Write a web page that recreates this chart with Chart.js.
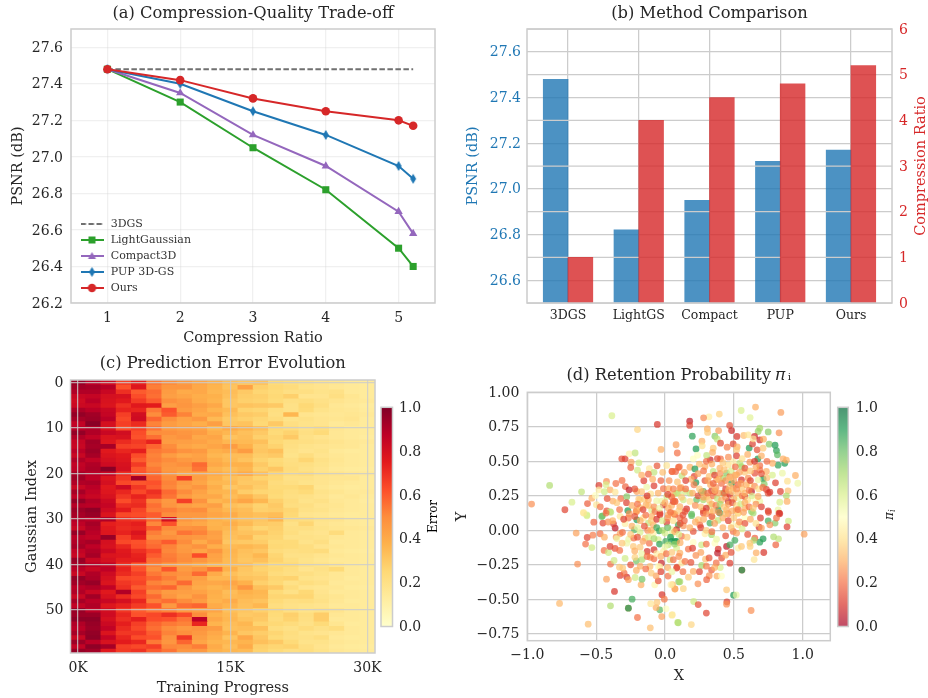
<!DOCTYPE html>
<html>
<head>
<meta charset="utf-8">
<title>Compression figure</title>
<script src="https://cdn.jsdelivr.net/npm/chart.js@4/dist/chart.umd.js"></script>
<style>
  html, body { margin: 0; padding: 0; background: #fff; }
  body { width: 928px; height: 698px; position: relative; overflow: hidden; }
  .box { position: absolute; }
</style>
</head>
<body>
<div class="box" style="left:0;top:0;width:450px;height:350px"><canvas id="tradeoff"></canvas></div>
<div class="box" style="left:450px;top:0;width:478px;height:350px"><canvas id="methods"></canvas></div>
<div class="box" style="left:0;top:350px;width:392px;height:348px"><canvas id="heat"></canvas></div>
<div class="box" style="left:378px;top:380px;width:72px;height:270px"><canvas id="heatBar"></canvas></div>
<div class="box" style="left:450px;top:350px;width:385px;height:348px"><canvas id="retention"></canvas></div>
<div class="box" style="left:835px;top:380px;width:93px;height:270px"><canvas id="retentionBar"></canvas></div>
<script>
// ---- panel (a) ----
const ratioX = [1, 2, 3, 4, 5, 5.2];
const baselineX = [1, 5.2];
const baselinePsnr = [27.48, 27.48];
const lightGaussianPsnr = [27.48, 27.30, 27.05, 26.82, 26.50, 26.40];
const compact3dPsnr = [27.48, 27.35, 27.12, 26.95, 26.70, 26.58];
const pupPsnr = [27.48, 27.40, 27.25, 27.12, 26.95, 26.88];
const oursPsnr = [27.48, 27.42, 27.32, 27.25, 27.20, 27.17];
const tradeoffXTicks = [1, 2, 3, 4, 5];
const tradeoffYTicks = [26.2, 26.4, 26.6, 26.8, 27.0, 27.2, 27.4, 27.6];

// ---- panel (b) ----
const methodNames = ["3DGS", "LightGS", "Compact", "PUP", "Ours"];
const methodPsnr = [27.48, 26.82, 26.95, 27.12, 27.17];
const methodRatio = [1.0, 4.0, 4.5, 4.8, 5.2];
const methodPsnrTicks = [26.6, 26.8, 27.0, 27.2, 27.4, 27.6];
const methodRatioTicks = [0, 1, 2, 3, 4, 5, 6];

// ---- panel (c) ---- error per gaussian (row) and training step (column), in %
const heatTickColumns = [0, 10, 19];
const heatTickLabels = ["0K", "15K", "30K"];
const heatRowTicks = [0, 10, 20, 30, 40, 50];
const errorRows = [
  [95,88,82,66,74,55,50,46,42,38,33,31,32,24,22,20,18,17,15,14],
  [93,92,89,62,77,53,47,47,41,37,32,43,28,25,23,19,18,16,15,14],
  [90,90,84,70,60,57,45,40,41,36,34,30,26,24,21,21,19,20,15,14],
  [84,85,80,79,63,56,44,42,39,38,33,29,28,25,28,18,18,21,17,14],
  [82,88,79,76,67,60,49,46,40,37,31,28,27,24,21,22,20,18,16,15],
  [83,84,78,70,76,75,44,47,44,41,31,32,31,30,20,25,21,16,15,13],
  [91,88,84,73,72,54,62,45,42,37,35,27,26,22,20,24,19,17,16,14],
  [96,93,85,66,81,50,60,52,40,41,33,30,29,21,36,18,17,16,17,15],
  [92,94,88,64,82,58,49,43,46,35,30,28,26,23,19,20,18,17,18,14],
  [86,98,80,66,71,52,45,42,39,44,31,32,25,30,21,19,18,15,16,14],
  [88,90,79,63,66,55,46,44,43,36,40,37,33,25,23,20,22,17,15,14],
  [96,90,84,81,63,50,49,47,45,39,36,33,30,24,27,21,24,16,15,14],
  [90,86,78,79,62,56,46,48,41,42,32,34,28,26,30,20,18,16,15,13],
  [85,93,77,71,67,73,45,44,43,40,36,35,33,25,22,21,20,18,16,15],
  [84,92,92,66,65,58,50,42,40,42,45,38,30,27,21,19,18,17,16,14],
  [88,94,76,72,74,54,52,48,46,38,40,45,31,33,20,18,19,15,14,14],
  [84,92,78,76,63,52,45,41,43,36,34,34,29,30,19,22,18,16,15,14],
  [90,86,80,77,60,53,50,46,44,39,35,32,27,24,21,26,20,17,15,14],
  [86,90,82,79,67,51,47,49,57,41,38,38,30,25,22,21,19,16,15,14],
  [87,91,98,80,61,54,46,45,55,37,34,36,28,31,23,20,18,15,14,13],
  [92,88,84,70,62,56,48,42,43,40,37,40,33,26,22,23,19,18,16,15],
  [93,87,78,68,93,58,50,66,44,38,33,31,27,25,20,20,18,17,17,14],
  [90,91,80,64,61,62,52,46,42,36,35,30,30,23,21,19,18,16,15,14],
  [84,88,76,82,68,60,51,44,47,39,31,33,29,24,24,26,17,15,14,14],
  [92,86,77,72,64,70,57,50,43,37,36,29,26,25,22,24,19,17,15,15],
  [87,84,79,68,73,66,55,45,41,41,34,37,31,24,21,20,18,15,16,14],
  [96,90,83,63,69,52,46,66,48,36,38,42,36,28,23,19,20,16,15,13],
  [89,88,85,70,71,56,47,44,42,44,33,31,27,30,22,21,18,17,15,14],
  [94,97,82,75,65,54,53,49,50,40,36,34,28,29,26,20,19,16,15,14],
  [92,95,78,64,63,60,50,46,46,42,40,35,33,34,25,18,17,15,14,14],
  [90,88,90,70,68,58,80,47,44,38,36,33,31,36,23,22,19,18,15,14],
  [87,92,74,72,74,51,62,43,41,37,39,35,30,29,20,26,18,16,15,14],
  [84,90,76,71,72,60,50,48,49,38,36,30,26,28,21,21,19,17,16,15],
  [95,88,77,73,78,53,46,55,52,44,34,32,31,27,22,19,18,23,15,14],
  [88,86,95,66,74,50,49,47,46,43,33,35,27,26,20,20,19,16,15,14],
  [90,92,80,64,62,55,60,50,40,46,31,30,29,24,24,19,21,15,15,14],
  [92,87,79,72,63,57,52,45,48,39,35,36,34,25,24,22,18,16,15,14],
  [86,90,83,76,70,64,51,46,42,47,37,33,31,23,21,22,23,15,14,13],
  [84,92,78,77,73,60,53,49,63,43,36,32,36,26,20,20,18,16,15,14],
  [95,84,80,74,74,56,54,50,47,42,35,31,33,27,22,19,17,15,15,14],
  [92,88,85,70,60,52,46,43,40,36,34,33,28,24,24,20,19,17,15,14],
  [88,84,87,73,62,50,61,45,48,55,38,31,27,25,22,18,20,24,15,14],
  [84,90,82,71,66,54,50,48,57,40,33,30,29,23,21,21,19,16,15,14],
  [96,91,80,64,63,58,53,46,44,36,36,32,31,26,27,19,18,16,14,14],
  [93,95,78,68,65,52,49,57,42,41,42,38,28,25,20,22,20,15,15,14],
  [88,90,86,70,60,56,58,46,40,37,39,47,33,30,23,18,17,16,14,13],
  [90,84,76,90,66,51,45,44,43,39,34,38,36,24,20,25,18,15,15,14],
  [84,93,79,71,64,57,47,42,48,38,35,36,35,26,26,26,19,17,15,14],
  [92,88,84,80,72,53,56,50,45,37,40,34,32,24,21,22,20,16,14,14],
  [86,90,77,73,67,62,46,56,58,40,37,33,36,22,20,19,18,15,15,14],
  [95,87,81,68,60,55,52,46,44,42,33,31,28,25,21,19,20,18,15,14],
  [94,94,82,72,62,64,70,64,50,38,35,30,31,24,28,22,29,16,15,14],
  [97,97,80,70,74,63,62,55,87,41,36,32,30,23,27,21,29,15,15,14],
  [90,95,83,74,66,58,54,52,72,37,34,36,27,25,23,20,24,17,14,14],
  [88,94,86,71,64,56,50,46,48,45,33,34,33,22,20,23,20,22,15,14],
  [92,96,78,68,68,60,52,49,46,41,37,31,29,26,22,19,18,16,15,14],
  [84,97,85,72,63,62,48,68,44,39,32,41,31,24,21,20,22,15,14,14],
  [94,88,79,75,72,54,47,58,42,37,36,37,33,30,24,19,19,16,15,14],
  [86,97,92,66,64,66,51,50,53,40,34,40,28,26,27,21,18,15,14,13],
  [95,93,76,67,69,60,55,47,46,38,36,35,27,24,21,22,19,16,15,14]
];
const errorBarTicks = [0, 0.2, 0.4, 0.6, 0.8, 1];

// ---- panel (d) ---- [x, y, retention probability]
const retentionPoints = [
  [-.386,.83,.6],[-.2,.73,.38],[-.056,.767,.1],[-.029,.586,.3],[.08,.62,.27],[.089,.56,.2],[-.314,.518,.15],[-.29,.518,.12],
  [-.26,.554,.47],[-.217,.56,.65],[-.246,.494,.28],[-.249,.455,.17],[-.19,.489,.62],[-.2,.436,.62],[-.114,.446,.43],[-.058,.467,.16],
  [.012,.47,.42],[-.08,.42,.65],[-.121,.407,.18],[-.017,.42,.33],[.05,.426,.18],[.097,.455,.2],[-.838,.325,.68],[-.969,.19,.25],
  [-.727,.149,.13],[-.606,.279,.65],[-.676,.204,.6],[-.563,.194,.17],[-.531,.233,.3],[-.498,.185,.42],[-.48,.325,.12],[-.425,.354,.25],
  [-.428,.33,.6],[-.357,.339,.2],[-.312,.361,.2],[-.399,.293,.3],[-.362,.277,.42],[-.48,.293,.45],[-.505,.252,.5],[-.288,.317,.18],
  [-.261,.293,.05],[-.205,.281,.28],[-.321,.23,.2],[-.278,.243,.75],[-.379,.212,.3],[-.154,.359,.12],[-.08,.322,.12],[-.133,.313,.55],
  [-.012,.301,.2],[.027,.301,.3],[-.104,.264,.4],[-.27,.143,.9],[-.21,.136,.25],[-.645,-.02,.28],[-.565,-.052,.13],[-.524,-.035,.22],
  [-.471,-.025,.2],[-.577,-.1,.2],[-.531,-.125,.62],[-.517,.059,.18],[-.451,.052,.13],[-.635,-.245,.25],[-.766,-.53,.32],[-.558,-.68,.33],
  [-.425,-.354,.28],[-.367,-.443,.1],[-.396,-.547,.68],[-.239,-.499,.85],[-.266,-.564,.3],[-.266,-.564,.92],[-.2,-.632,.2],[-.107,-.707,.33],
  [.05,-.615,.42],[-.024,-.625,.28],[.092,-.668,.65],[-.038,-.576,.82],[.007,-.569,.5],[-.065,-.56,.3],[-.022,-.467,.1],[-.005,-.499,.22],
  [.072,-.424,.27],[.099,-.373,.75],[-.075,-.395,.47],[-.049,-.366,.15],[-.065,-.33,.28],[-.174,-.395,.3],[-.167,-.354,.78],[-.217,-.342,.62],
  [-.278,-.339,.08],[-.326,-.327,.12],[-.208,-.291,.3],[-.396,-.245,.2],[-.331,-.267,.35],[-.37,-.219,.62],[-.29,-.204,.62],[-.208,-.221,.78],
  [-.167,-.211,.68],[-.027,-.238,.07],[.022,-.332,.2],[.087,-.267,.15],[-.442,-.146,.2],[-.411,-.161,.62],[-.13,-.153,.1],[-.08,-.141,.1],
  [-.278,-.093,.55],[-.362,.016,.05],[-.374,.047,.12],[-.454,.105,.75],[-.567,.105,.6],[-.222,.004,.82],[-.205,.076,.9],[-.043,-.004,.88],
  [.012,.059,.12],[1.01,-.028,.28],[.896,.067,.62],[.886,.025,.12],[.824,-.062,.65],[.788,-.047,.68],[.804,-.105,.18],[.717,-.161,.1],
  [.712,-.062,.9],[.688,-.086,.88],[.662,-.163,.3],[.647,-.212,.42],[.558,-.288,.2],[.558,-.288,.92],[.471,-.238,.12],[.411,-.201,.15],
  [.401,-.27,.6],[.338,-.288,.17],[.266,-.255,.7],[.205,-.298,.3],[.239,-.388,.25],[.447,-.431,.35],[.498,-.47,.9],[.208,-.516,.62],
  [.241,-.538,.15],[.449,-.518,.12],[.447,-.535,.25],[.625,-.581,.25],[.3,-.6,.13],[.096,-.67,.68],[.191,-.683,.38],
  [.553,.868,.6],[.657,.893,.3],[.618,.817,.58],[.841,.854,.27],[.394,.842,.37],[.319,.822,.45],[.28,.815,.24],[.179,.791,.05],
  [.179,.76,.13],[.469,.76,.15],[.483,.723,.08],[.522,.68,.1],[.828,.706,.25],[.198,.682,.88],[.225,.59,.9],[.611,.596,.9],[.328,.511,.07],
  [.802,.344,.12],[.712,.373,.92],
  [.35,.426,.65],[.398,.45,.3],[.459,.474,.4],[.495,.498,.45],[.543,.486,.65],[.555,.462,.7],[.616,.494,.25],[.579,.421,.35],
  [.519,.402,.3],[.447,.414,.75],[.374,.366,.3],[.422,.378,.7],[.483,.341,.9],[.471,.39,.2],[.555,.366,.1],[.604,.378,.25],
  [.652,.414,.15],[.688,.438,.2],[.736,.426,.3],[.616,.329,.45],[.676,.366,.55],[.749,.269,.15],[.628,.281,.05],[.579,.245,.1],
  [.531,.233,.55],[.495,.305,.25],[.422,.269,.75],[.362,.281,.1],[.338,.286,.1],[.302,.245,.35],[.265,.276,.85],[.229,.221,.8],
  [.181,.269,.65],[.145,.281,.62],[.096,.269,.65],[.06,.257,.3],[.459,.209,.05],[.519,.148,.25],[.386,.148,.9],[.326,.184,.6],
  [.278,.221,.7],[.181,.209,.4],[.133,.221,.62],[.072,.209,.2],[.048,.18,.3],[.157,.155,.1],[.652,.221,.5],[.688,.209,.55],
  [.676,.245,.3],[.579,.16,.3],[.628,.136,.75],[.749,.141,.1],[.821,.148,.55],[.828,.124,.1],[.531,.124,.35],[.447,.148,.3],
  [.326,.136,.4],[.278,.141,.15],[.193,.117,.8],
  [.35,.595,.35],[.345,.564,.3],[.451,.602,.22],[.495,.626,.13],[.524,.605,.3],[.519,.581,.35],[.635,.626,.12],[.669,.583,.15],
  [.688,.655,.08],[.712,.595,.35],[.756,.624,.75],[.799,.617,.9],[.809,.578,.88],[.816,.547,.82],[.302,.542,.65],[.236,.544,.5],
  [.205,.518,.5],[.403,.518,.2],[.674,.518,.9],[.688,.469,.2],[.821,.472,.88],[.869,.486,.9],[.881,.508,.3],[.857,.518,.3],
  [.78,.486,.3],[.947,.397,.3],[.889,.356,.4],[.964,.341,.55],[.852,.414,.55],[.72,.334,.75],[.838,.281,.12],[.893,.286,.33],
  [.881,.25,.68],[.886,.209,.3],[.833,.204,.6],[.736,.296,.12],[.761,.276,.1],[.104,.46,.2],[.077,.426,.18],[.053,.426,.2],
  [.123,.395,.65],[.181,.457,.3],[.249,.479,.33],[.29,.462,.3],[.217,.445,.9],[.212,.39,.12],[.224,.346,.9],[.278,.281,.85],
  [.116,.31,.3],[.307,.735,.3],[.309,.709,.35],[.389,.723,.27],[.572,.687,.33],[.604,.692,.42],[.688,.74,.7],[.676,.716,.72],
  [.749,.713,.75],[.65,.68,.08],[.715,.66,.3],[.64,.663,.42],[.362,.682,.75],[.379,.66,.65],[.403,.631,.13],[.268,.646,.3],[.27,.612,.4],
  [.012,.245,.6],[.06,.209,.13],[.084,.269,.65],[-.012,.184,.1],[.024,.16,.3],[-.097,.148,.6],[-.138,.184,.3],[-.181,.221,.4],
  [-.073,.136,.2],[-.037,.124,.15],[.067,.117,.2],[-.206,.148,.25],[.108,.172,.3],[-.423,.141,.15],[-.399,.136,.65],[-.592,.129,.45],
  [-.568,.112,.6],[-.459,.1,.8],
  [-.326,.101,.42],[-.266,.089,.2],[-.157,.089,.42],[-.097,.101,.3],[-.037,.113,.12],[.024,.113,.3],[.072,.113,.22],[-.206,.137,.28],
  [-.29,.048,.45],[-.121,.052,.65],[-.085,.04,.3],[.048,.004,.55],[.096,.04,.85],[0,-.02,.6],[-.085,-.02,.45],[-.145,-.056,.35],
  [-.049,-.068,.6],[.005,-.08,.85],[.048,-.08,.9],[.084,-.08,.9],[.024,-.105,.65],[-.012,-.153,.45],[.084,-.129,.6],[-.23,-.117,.35],
  [-.181,-.122,.35],[-.114,-.093,.2],[-.181,-.015,.6],[-.126,-.001,.25],[-.326,-.025,.28],[-.309,-.015,.2],[-.355,-.049,.25],[-.312,-.093,.35],
  [-.264,-.064,.55],[-.227,-.056,.2],[.036,-.213,.62],
  [.06,.125,.3],[.108,.089,.2],[.145,.137,.15],[.193,.106,.8],[.241,.077,.35],[.278,.125,.15],[.326,.052,.85],[.35,.089,.45],
  [.398,.125,.9],[.459,.12,.25],[.531,.125,.4],[.386,.072,.65],[.253,.04,.2],[.205,-.008,.15],[.133,.033,.25],[.084,.004,.1],
  [.048,-.032,.55],[.072,-.08,.9],[.121,-.044,.2],[.205,-.088,.5],[.265,-.105,.62],[.29,-.025,.45],[.338,-.032,.7],[.362,-.093,.5],
  [.386,-.136,.1],[.447,-.117,.05],[.471,-.105,.85],[.495,-.008,.2],[.507,-.073,.85],[.531,-.129,.45],[.555,-.117,.35],[.483,.04,.5],
  [.531,.04,.4],[.579,.089,.5],[.64,.125,.7],[.683,.023,.1],[.7,.016,.28],[.749,.069,.85],[.799,.052,.75],[.693,.089,.12],
  [.761,.04,.25],[.833,.12,.1],[.809,.089,.2],[.751,.13,.15],[.374,-.064,.55],[.381,-.165,.05],[.224,-.182,.25],[.169,-.136,.2],
  [.108,-.165,.3],[.06,-.213,.2],[.121,-.237,.42],[.084,-.274,.15],[.145,-.225,.2],
  [.652,-.056,.18],[.645,-.073,.7],[.616,-.093,.35],[.618,-.117,.37],[.372,-.237,.2],[.377,-.332,.3],[.41,-.332,.5],[.321,-.329,.25],
  [.302,-.358,.18],[.294,-.209,.33],[.188,-.233,.15],[.108,-.373,.7],[.055,-.394,.33],[.072,-.426,.3],[.133,-.423,.37],[.517,-.469,.55],[.053,-.612,.43],
  [-.109,-.262,.33],[-.107,-.196,.25],[-.08,-.206,.2],[-.049,-.262,.5],[-.037,-.266,.45],[-.399,-.117,.12],[-.363,-.131,.15],[-.329,-.146,.2],
  [-.218,-.196,.37],[-.297,-.31,.2],[-.266,-.358,.28],[-.307,-.274,.35],[-.058,-.522,.35],[-.104,-.532,.42],[.043,-.394,.45],[-.413,.06,.25],
  [-.394,.13,.65],[-.428,.125,.2],[-.592,.125,.42],
  [.048,.242,.2],[.108,.305,.25],[-.191,.226,.35],[-.15,.226,.35],[-.061,.213,.55],[-.024,.211,.55],[-.121,.221,.3],[.072,.209,.2],[-.181,.165,.35],
  // dense middle of the upper-right cloud
  [.21,.33,.22],[.25,.3,.35],[.29,.36,.15],[.33,.33,.3],[.37,.31,.25],[.41,.34,.2],[.44,.3,.12],[.47,.32,.33],[.5,.36,.28],[.53,.33,.18],
  [.56,.3,.35],[.59,.33,.3],[.62,.36,.12],[.65,.32,.25],[.68,.3,.4],[.71,.31,.2],[.2,.27,.3],[.24,.25,.15],[.28,.24,.28],[.32,.22,.35],
  [.35,.25,.2],[.38,.23,.65],[.41,.22,.3],[.44,.24,.25],[.47,.26,.1],[.5,.23,.3],[.53,.27,.32],[.56,.25,.22],[.6,.22,.4],[.63,.25,.6],[.66,.19,.25],
  [.22,.18,.25],[.26,.17,.33],[.3,.16,.1],[.34,.19,.3],[.37,.18,.22],[.4,.19,.7],[.43,.17,.35],[.46,.19,.28],[.49,.2,.15],[.52,.18,.4],
  [.55,.19,.62],[.58,.2,.3],[.61,.17,.2],[.64,.16,.35],[.7,.17,.12],[.24,.41,.28],[.28,.43,.2],[.32,.39,.33],[.36,.4,.12],[.4,.41,.25],
  [.43,.44,.33],[.48,.43,.6],[.51,.46,.2],[.54,.42,.28],[.58,.45,.15],[.62,.43,.35],[.66,.46,.3],[.7,.41,.15],[.74,.38,.33],[.78,.4,.6],
  [.3,.5,.2],[.34,.48,.3],[.38,.52,.15],[.42,.49,.35],[.46,.53,.25],[.52,.54,.12],[.56,.52,.4],[.6,.55,.3],[.65,.5,.1],[.7,.54,.3],[.74,.5,.2],
  [.3,.12,.25],[.34,.1,.15],[.42,.09,.3],[.46,.07,.12],[.5,.09,.35],[.54,.06,.25],[.58,.05,.15],[.62,.08,.3],[.66,.05,.4],[.22,.06,.3],
  [.26,.02,.12],[.3,0,.35],[.34,-.01,.2],[.42,.02,.3],[.44,-.04,.15],[.52,-.02,.28],[.56,.01,.6],[.6,-.03,.15],
  [.18,.02,.3],[.14,.07,.18],[.16,-.05,.35],[.2,-.13,.12],[.26,-.16,.28],[.3,-.1,.2],[.32,-.2,.15],[.44,-.18,.3],[.48,-.16,.15],
  [.27,.28,.3],[.31,.27,.2],[.36,.29,.33],[.39,.27,.28],[.43,.27,.18],[.46,.29,.3],[.49,.28,.35],[.52,.3,.25],[.55,.34,.28],[.58,.27,.32],
  [.61,.29,.22],[.31,.36,.28],[.35,.34,.18],[.39,.37,.3],[.44,.36,.25],[.47,.38,.33],[.51,.4,.3],[.35,.14,.3],[.39,.13,.25],[.44,.12,.33],
  [.49,.14,.3],[.53,.15,.2],[.57,.13,.28],[.28,.08,.3],[.36,.05,.28],[.48,.02,.33],
  // dense middle of the left cloud
  [-.28,.2,.12],[-.24,.18,.3],[-.2,.19,.2],[-.16,.15,.12],[-.12,.18,.33],[-.08,.17,.25],[-.04,.16,.55],[0,.2,.3],[.04,.13,.2],[.1,.14,.35],[.13,.11,.15],
  [-.26,.12,.25],[-.22,.1,.15],[-.18,.07,.3],[-.14,.11,.2],[-.1,.07,.35],[-.06,.08,.1],[-.02,.07,.6],[.02,.09,.25],[.06,.07,.4],[.11,.05,.15],
  [-.24,.03,.3],[-.2,.02,.55],[-.15,.03,.15],[-.1,0,.3],[-.06,.02,.85],[-.02,0,.7],[.02,.02,.8],[.07,-.01,.3],[.1,-.03,.6],
  [-.25,-.03,.35],[-.2,-.05,.15],[-.16,-.08,.28],[-.12,-.05,.6],[-.08,-.06,.7],[-.04,-.1,.88],[0,-.12,.55],[.04,-.05,.9],[.07,-.1,.72],[.11,-.09,.3],
  [-.22,-.15,.3],[-.17,-.17,.55],[-.13,-.19,.2],[-.06,-.17,.45],[-.03,-.19,.3],[.01,-.17,.2],[.05,-.16,.35],[.1,-.19,.25],
  [-.25,-.25,.15],[-.18,-.26,.3],[-.14,-.28,.2],[-.1,-.31,.35],[-.03,-.3,.12],[.02,-.27,.3],[.05,-.3,.55],[.13,-.3,.2],[.17,-.34,.35],[.25,-.3,.13],[.3,-.26,.22],[.36,-.27,.3],
  [-.22,.3,.15],[-.17,.28,.33],[-.13,.25,.1],[-.05,.27,.3],[.02,.26,.12],[.06,.3,.22],[.12,.24,.35],[.15,.3,.2],[.19,.37,.3],[.15,.36,.12],
  [.09,.35,.33],[.03,.36,.25],[-.03,.36,.18],[-.09,.37,.3],[-.17,.4,.3],[.14,.42,.28],
  [-.35,.2,.35],[-.33,.15,.2],[-.38,.07,.3],[-.3,.08,.12],[-.35,-.06,.55],[-.44,-.05,.3],[-.47,.17,.2],[-.42,.23,.15],[-.44,.28,.62]
];
const retentionXTicks = [-1, -0.5, 0, 0.5, 1];
const retentionYTicks = [-0.75, -0.5, -0.25, 0, 0.25, 0.5, 0.75, 1];
const retentionBarTicks = [0, 0.2, 0.4, 0.6, 0.8, 1];

// ---- shared style ----
const SERIF = "'DejaVu Serif', serif";
const INK = "#262626";
const BLUE = "#1f77b4", RED = "#d62728", GREEN = "#2ca02c", PURPLE = "#9467bd";
const TICK_SIZE = 14, LABEL_SIZE = 14.5, TITLE_SIZE = 16.3;
const GRID = "#cccccc";

Chart.defaults.font.family = SERIF;
Chart.defaults.color = INK;
Chart.defaults.animation = false;
Chart.defaults.responsive = false;
Chart.defaults.plugins.tooltip.enabled = false;

const YLORRD = ["#ffffcc", "#ffeda0", "#fed976", "#feb24c", "#fd8d3c", "#fc4e2a", "#e31a1c", "#bd0026", "#800026"];
const RDYLGN = ["#a50026", "#d73027", "#f46d43", "#fdae61", "#fee08b", "#ffffbf", "#d9ef8b", "#a6d96a", "#66bd63", "#1a9850", "#006837"];

function hexRgb(h) {
  return [1, 3, 5].map(i => parseInt(h.slice(i, i + 2), 16));
}
function rampColor(stops, t, alpha) {
  const p = Math.min(Math.max(t, 0), 1) * (stops.length - 1);
  const i = Math.min(Math.floor(p), stops.length - 2);
  const a = hexRgb(stops[i]), b = hexRgb(stops[i + 1]), f = p - i;
  const c = a.map((v, k) => Math.round(v + (b[k] - v) * f));
  return alpha === undefined ? `rgb(${c})` : `rgba(${c},${alpha})`;
}
function rampGradient(chart, stops, alpha) {
  const area = chart.chartArea;
  if (!area) return "#ccc";
  const g = chart.ctx.createLinearGradient(0, area.bottom, 0, area.top);
  stops.forEach((_, i) => {
    const t = i / (stops.length - 1);
    g.addColorStop(t, rampColor(stops, t, alpha));
  });
  return g;
}
function fixedTicks(values) {
  return scale => { scale.ticks = values.map(value => ({ value })); };
}
function minusSign(text) {
  return text.replace("-", "\u2212");
}
function sizeCanvas(id, w, h) {
  const c = document.getElementById(id);
  c.width = w; c.height = h;
  c.style.width = w + "px"; c.style.height = h + "px";
  return c;
}

// axes spines, matplotlib draws them on top of everything
const frame = {
  id: "frame",
  afterLayout(chart) {
    // keep the title centred over the plot, the layout pass can leave it off by a few px
    if (chart.titleBlock) {
      chart.titleBlock.left = chart.chartArea.left;
      chart.titleBlock.right = chart.chartArea.right;
    }
  },
  afterDraw(chart) {
    const { ctx, chartArea: a } = chart;
    ctx.save();
    ctx.strokeStyle = GRID;
    ctx.lineWidth = 1.5;
    ctx.strokeRect(a.left, a.top, a.right - a.left, a.bottom - a.top);
    ctx.restore();
  }
};

// chart.js always turns a right axis title the other way, so these are done by hand
function sideLabel(text, x, y, size, color, subscript) {
  return {
    id: "sideLabel",
    afterDraw(chart) {
      const ctx = chart.ctx;
      ctx.save();
      ctx.translate(x, y);
      ctx.rotate(-Math.PI / 2);
      ctx.fillStyle = color;
      ctx.textBaseline = "middle";
      ctx.textAlign = "center";
      if (subscript) {
        ctx.font = `italic ${size}px ${SERIF}`;
        ctx.textAlign = "left";
        const w = ctx.measureText(text).width;
        ctx.fillText(text, -w / 2 - 2, 0);
        ctx.font = `italic ${size * 0.7}px ${SERIF}`;
        ctx.fillText(subscript, w / 2 - 2, 3);
      } else {
        ctx.font = `${size}px ${SERIF}`;
        ctx.fillText(text, 0, 0);
      }
      ctx.restore();
    }
  };
}

function titleOpts(text, center, areaTop, size) {
  const s = size || TITLE_SIZE;
  return {
    display: true,
    text,
    fullSize: false,
    color: INK,
    font: { size: s, weight: "normal", lineHeight: 1 },
    padding: { top: center - s / 2, bottom: areaTop - center - s / 2 }
  };
}

function axisTitle(text, pad, color) {
  const p = { top: 0, bottom: 0 };
  p[pad[0]] = pad[1];
  return { display: true, text, color: color || INK, font: { size: LABEL_SIZE }, padding: p };
}

// ---- panel (a) ----
function markerCanvas(draw, w, h) {
  const c = document.createElement("canvas");
  c.width = w; c.height = h;
  draw(c.getContext("2d"), w / 2, h / 2);
  return c;
}
function thinDiamond(ctx, x, y) {
  ctx.beginPath();
  ctx.moveTo(x, y - 5);
  ctx.lineTo(x + 3, y);
  ctx.lineTo(x, y + 5);
  ctx.lineTo(x - 3, y);
  ctx.closePath();
  ctx.fill();
}
const diamondPoint = markerCanvas((ctx, x, y) => { ctx.fillStyle = BLUE; thinDiamond(ctx, x, y); }, 8, 12);

function legendHandle(color, dash, marker) {
  return markerCanvas((ctx, x, y) => {
    ctx.strokeStyle = color;
    ctx.fillStyle = color;
    ctx.lineWidth = 2;
    ctx.setLineDash(dash || []);
    ctx.beginPath();
    ctx.moveTo(0, y);
    ctx.lineTo(2 * x, y);
    ctx.stroke();
    ctx.setLineDash([]);
    if (marker) marker(ctx, x, y);
  }, 23, 12);
}
const handleMarkers = {
  square: (ctx, x, y) => ctx.fillRect(x - 3.5, y - 3.5, 7, 7),
  triangle: (ctx, x, y) => {
    ctx.beginPath();
    ctx.moveTo(x, y - 4);
    ctx.lineTo(x + 4, y + 3);
    ctx.lineTo(x - 4, y + 3);
    ctx.closePath();
    ctx.fill();
  },
  circle: (ctx, x, y) => { ctx.beginPath(); ctx.arc(x, y, 4.2, 0, 2 * Math.PI); ctx.fill(); }
};

function toXY(xs, ys) {
  return xs.map((x, i) => ({ x, y: ys[i] }));
}
function lineSet(label, ys, color, order, style, radius, extra) {
  return Object.assign({
    label, order,
    data: toXY(ratioX, ys),
    borderColor: color, backgroundColor: color,
    borderWidth: 2,
    pointStyle: style, pointRadius: radius, pointBorderWidth: 0, pointHoverRadius: radius,
    clip: false
  }, extra);
}

const BASELINE_GRAY = "#707070";
sizeCanvas("tradeoff", 450, 350);
new Chart("tradeoff", {
  type: "line",
  data: {
    datasets: [
      { label: "3DGS", order: 5, data: toXY(baselineX, baselinePsnr), borderColor: BASELINE_GRAY, backgroundColor: BASELINE_GRAY,
        borderWidth: 2, borderDash: [5.5, 2.5], pointRadius: 0, handle: legendHandle(BASELINE_GRAY, [5.5, 2.5]) },
      lineSet("LightGaussian", lightGaussianPsnr, GREEN, 4, "rect", 5, { handle: legendHandle(GREEN, null, handleMarkers.square) }),
      lineSet("Compact3D", compact3dPsnr, PURPLE, 3, "triangle", 4.8, { handle: legendHandle(PURPLE, null, handleMarkers.triangle) }),
      lineSet("PUP 3D-GS", pupPsnr, BLUE, 2, diamondPoint, 5, { handle: legendHandle(BLUE, null, thinDiamond) }),
      lineSet("Ours", oursPsnr, RED, 1, "circle", 4.3, { handle: legendHandle(RED, null, handleMarkers.circle) })
    ]
  },
  options: {
    layout: { autoPadding: false, padding: { right: 15 } },
    scales: {
      x: {
        type: "linear", min: 0.5, max: 5.5,
        afterBuildTicks: fixedTicks(tradeoffXTicks),
        afterFit: s => { s.height = 47; },
        grid: { color: "rgba(204,204,204,0.3)", lineWidth: 1.25, drawTicks: false },
        border: { display: false },
        ticks: { padding: 6.5, font: { size: TICK_SIZE }, color: INK, callback: v => String(v) },
        title: axisTitle("Compression Ratio", ["bottom", 2.6])
      },
      y: {
        min: 26.2, max: 27.7,
        afterBuildTicks: fixedTicks(tradeoffYTicks),
        afterFit: s => { s.width = 71; },
        grid: { color: "rgba(204,204,204,0.3)", lineWidth: 1.25, drawTicks: false },
        border: { display: false },
        ticks: { padding: 8, labelOffset: 1, font: { size: TICK_SIZE }, color: INK, callback: v => v.toFixed(1) },
        title: axisTitle("PSNR (dB)", ["top", 9.6])
      }
    },
    plugins: {
      title: titleOpts("(a) Compression-Quality Trade-off", 14, 29),
      legend: {
        position: "chartArea",
        align: "start",
        labels: {
          color: "#333333",
          font: { size: 11 },
          padding: 5,
          usePointStyle: true,
          pointStyleWidth: 26.5,
          generateLabels: chart => chart.data.datasets.map((d, i) => ({
            text: d.label, pointStyle: d.handle, fontColor: "#333333", datasetIndex: i, lineWidth: 0
          }))
        }
      }
    }
  },
  plugins: [frame, {
    id: "legendSpot",
    afterLayout(chart) {
      chart.legend.left = chart.chartArea.left + 2.75;
      chart.legend.top = chart.chartArea.top + 184.5;
      chart.legend.bottom = chart.chartArea.bottom;
    }
  }]
});

// ---- panel (b) ----
// the right axis gridlines sit above the blue bars but below the red ones
const ratioGrid = {
  id: "ratioGrid",
  beforeDatasetDraw(chart, args) {
    if (args.index !== 1) return;
    const { ctx, chartArea: a, scales } = chart;
    ctx.save();
    ctx.strokeStyle = GRID;
    ctx.lineWidth = 1.25;
    methodRatioTicks.forEach(t => {
      const y = scales.y1.getPixelForValue(t);
      ctx.beginPath();
      ctx.moveTo(a.left, y);
      ctx.lineTo(a.right, y);
      ctx.stroke();
    });
    ctx.restore();
  }
};

sizeCanvas("methods", 478, 350);
new Chart("methods", {
  type: "bar",
  data: {
    datasets: [
      { label: "PSNR", yAxisID: "y", order: 2, backgroundColor: "rgba(31,119,180,0.8)", barThickness: 24.8,
        data: methodPsnr.map((y, i) => ({ x: i - 0.175, y })) },
      { label: "Compression Ratio", yAxisID: "y1", order: 1, backgroundColor: "rgba(214,39,40,0.8)", barThickness: 24.8,
        data: methodRatio.map((y, i) => ({ x: i + 0.175, y })) }
    ]
  },
  options: {
    grouped: false,
    layout: { autoPadding: false },
    scales: {
      x: {
        type: "linear", min: -0.58, max: 4.58, offset: false,
        afterBuildTicks: fixedTicks(methodNames.map((_, i) => i)),
        afterFit: s => { s.height = 47; },
        grid: { color: GRID, lineWidth: 1.25, drawTicks: false, offset: false },
        border: { display: false },
        ticks: { padding: 5.5, font: { size: 12.5 }, color: INK, callback: v => methodNames[v] }
      },
      y: {
        min: 26.5, max: 27.7,
        afterBuildTicks: fixedTicks(methodPsnrTicks),
        afterFit: s => { s.width = 77; },
        grid: { color: GRID, lineWidth: 1.25, drawTicks: false },
        border: { display: false },
        ticks: { padding: 6, labelOffset: 1, font: { size: TICK_SIZE }, color: BLUE, callback: v => v.toFixed(1) },
        title: axisTitle("PSNR (dB)", ["top", 14.6], BLUE)
      },
      y1: {
        position: "right",
        min: 0, max: 6,
        afterBuildTicks: fixedTicks(methodRatioTicks),
        afterFit: s => { s.width = 36; },
        grid: { display: false, drawTicks: false },
        border: { display: false },
        ticks: { padding: 7, labelOffset: 1, font: { size: TICK_SIZE }, color: RED, callback: v => String(v) }
      }
    },
    plugins: {
      title: titleOpts("(b) Method Comparison", 14, 29),
      legend: { display: false }
    }
  },
  plugins: [frame, ratioGrid, sideLabel("Compression Ratio", 471.5, 166, LABEL_SIZE, RED)]
});

// ---- panel (c) ---- one floating bar per cell, one dataset per row
sizeCanvas("heat", 392, 348);
new Chart("heat", {
  type: "bar",
  data: {
    labels: errorRows[0].map((_, col) => String(col)),
    datasets: errorRows.map((row, r) => ({
      label: "row " + r,
      data: row.map(() => [r - 0.5, r + 0.5]),
      backgroundColor: row.map(v => rampColor(YLORRD, v / 100)),
      inflateAmount: 0.4,
      borderWidth: 0
    }))
  },
  options: {
    grouped: false,
    barPercentage: 1,
    categoryPercentage: 1,
    layout: { autoPadding: false, padding: { right: 17 } },
    scales: {
      x: {
        afterBuildTicks: fixedTicks(heatTickColumns),
        // the 30K label sits close to the edge, do not let it shrink the plot
        afterFit: s => { s.height = 45; s.paddingLeft = 0; s.paddingRight = 0; },
        grid: { color: "rgba(204,204,204,0.8)", lineWidth: 1.25, drawTicks: false, offset: false, z: 1 },
        border: { display: false },
        ticks: { autoSkip: false, maxRotation: 0, padding: 7, font: { size: TICK_SIZE }, color: INK,
          callback: v => heatTickLabels[heatTickColumns.indexOf(v)] },
        title: axisTitle("Training Progress", ["bottom", 0.6])
      },
      y: {
        reverse: true,
        min: -0.5, max: 59.5,
        afterBuildTicks: fixedTicks(heatRowTicks),
        afterFit: s => { s.width = 70.5; },
        grid: { color: "rgba(204,204,204,0.8)", lineWidth: 1.25, drawTicks: false, z: 1 },
        border: { display: false },
        ticks: { padding: 7, labelOffset: 1, font: { size: TICK_SIZE }, color: INK, callback: v => String(v) },
        title: axisTitle("Gaussian Index", ["top", 23.6])
      }
    },
    plugins: {
      title: titleOpts("(c) Prediction Error Evolution", 14, 30),
      legend: { display: false }
    }
  },
  plugins: [frame]
});

function colorBar(id, w, left, stops, alpha, ticks, areaWidth, pad, label) {
  sizeCanvas(id, w, 270);
  new Chart(id, {
    type: "bar",
    data: {
      labels: [""],
      datasets: [{
        data: [[0, 1]],
        backgroundColor: ctx => rampGradient(ctx.chart, stops, alpha),
        inflateAmount: 0
      }]
    },
    options: {
      barPercentage: 1,
      categoryPercentage: 1,
      layout: { autoPadding: false, padding: { left, top: 27.3, bottom: 23.5 } },
      scales: {
        x: { display: false },
        y: {
          position: "right",
          min: 0, max: 1,
          afterBuildTicks: fixedTicks(ticks),
          afterFit: s => { s.width = w - left - areaWidth; },
          grid: { display: false, drawTicks: false },
          border: { display: false },
          ticks: { padding: pad, labelOffset: 1, font: { size: TICK_SIZE }, color: INK, callback: v => v.toFixed(1) }
        }
      },
      plugins: { legend: { display: false } }
    },
    plugins: [frame, label]
  });
}
colorBar("heatBar", 72, 3, YLORRD, undefined, errorBarTicks, 11.5, 6.5, sideLabel("Error", 56, 136.5, 12));
colorBar("retentionBar", 93, 2.7, RDYLGN, 0.7, retentionBarTicks, 10.6, 7.4, sideLabel("\u03c0", 55, 134, 12, INK, "i"));

// ---- panel (d) ----
sizeCanvas("retention", 385, 348);
new Chart("retention", {
  type: "scatter",
  data: {
    datasets: [{
      label: "retention",
      data: retentionPoints.map(p => ({ x: p[0], y: p[1] })),
      backgroundColor: retentionPoints.map(p => rampColor(RDYLGN, p[2], 0.7)),
      pointRadius: 3.4,
      pointBorderWidth: 0
    }]
  },
  options: {
    layout: { autoPadding: false, padding: { right: 4.7 } },
    scales: {
      x: {
        type: "linear", min: -1, max: 1.2,
        afterBuildTicks: fixedTicks(retentionXTicks),
        afterFit: s => { s.height = 57.3; },
        grid: { color: GRID, lineWidth: 1.25, drawTicks: false },
        border: { display: false },
        ticks: { padding: 6, font: { size: TICK_SIZE }, color: INK, callback: v => minusSign(v.toFixed(1)) },
        title: axisTitle("X", ["bottom", 12.6])
      },
      y: {
        min: -0.8, max: 1,
        afterBuildTicks: fixedTicks(retentionYTicks),
        afterFit: s => { s.width = 77.3; },
        grid: { color: GRID, lineWidth: 1.25, drawTicks: false },
        border: { display: false },
        ticks: { padding: 8, labelOffset: 1, font: { size: TICK_SIZE }, color: INK, callback: v => minusSign(v.toFixed(2)) },
        title: axisTitle("Y", ["top", 3.6])
      }
    },
    plugins: {
      title: titleOpts("(d) Retention Probability \u{1D70B}\u200A\u1D62", 26, 42.3),
      legend: { display: false }
    }
  },
  plugins: [frame]
});
</script>
</body>
</html>
